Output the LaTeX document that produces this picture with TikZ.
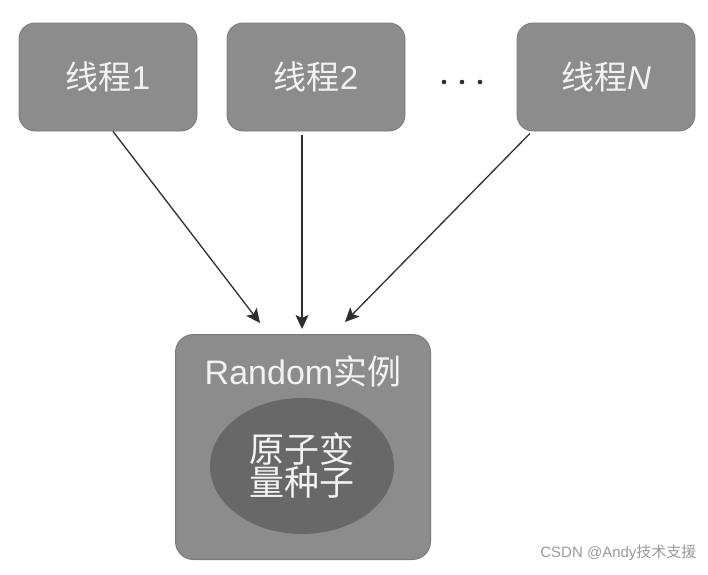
\documentclass[tikz,border=0pt]{standalone}
\usepackage{fontspec}
\setmainfont{Liberation Sans}
\newfontfamily\cjk{Noto Sans CJK SC}
\usetikzlibrary{arrows.meta,calc,shapes.geometric}
\definecolor{boxgray}{HTML}{8C8C8C}
\definecolor{boxedge}{HTML}{7A7A7A}
\definecolor{ellgray}{HTML}{686868}
\definecolor{txt}{HTML}{F2F2F2}
\definecolor{arr}{HTML}{2E2E2E}
\definecolor{wm}{HTML}{9A9A9A}
\tikzset{
  thread/.style={draw=boxedge, line width=0.8pt, fill=boxgray, rounded corners=16pt,
    minimum width=178pt, minimum height=108pt, inner sep=0pt,
    text=txt, font=\fontsize{33}{36}\selectfont},
  inst/.style={draw=boxedge, line width=1pt, fill=boxgray, rounded corners=18pt,
    minimum width=255pt, minimum height=225pt, inner sep=0pt},
  seed/.style={ellipse, fill=ellgray, draw=none, minimum width=184pt, minimum height=136pt,
    inner sep=0pt, text=txt, align=center, font=\fontsize{35}{33}\selectfont\cjk},
  lbl/.style={text=txt, inner sep=0pt, font=\fontsize{34}{36}\selectfont},
  conn/.style={draw=arr, line width=1.3pt, -{Stealth[length=14pt,width=13pt,inset=3pt]}},
  dot/.style={circle, fill=arr, inner sep=0pt, minimum size=4.6pt},
}
\begin{document}
\begin{tikzpicture}[x=1pt,y=-1pt]
\fill[white] (0,0) rectangle (708,574);
\useasboundingbox (0,0) rectangle (708,574);
\node[thread] (t1) at (108,77) {{\cjk 线程}1};
\node[thread] (t2) at (316,77) {{\cjk 线程}2};
\node[thread] (tn) at (606,77) {{\cjk 线程}\textit{N}};
\node[dot] (d1) at (444,82) {};
\node[dot] (d2) at (462,82) {};
\node[dot] (d3) at (480,82) {};
\node[inst] (r) at (303,447) {};
\node[lbl] (rl) at (303,371) {Random{\cjk 实例}};
\node[seed] (s) at (302,466) {原子变\\量种子};
\coordinate (e1) at ($(r.north)+(-43,-11)$);
\coordinate (e2) at ($(r.north)+(-1,-5)$);
\coordinate (e3) at ($(r.north)+(42,-12)$);
\draw[conn] ($(t1.south)+(5,0)$) -- (e1);
\draw[conn] ($(t2.south)+(-14,4)$) -- (e2);
\draw[conn] ($(tn.south)+(-76,2)$) -- (e3);
\node[text=wm, font=\fontsize{15}{16}\selectfont, anchor=east] (w) at (700,553) {CSDN @Andy{\cjk 技术支援}};
\end{tikzpicture}
\end{document}
